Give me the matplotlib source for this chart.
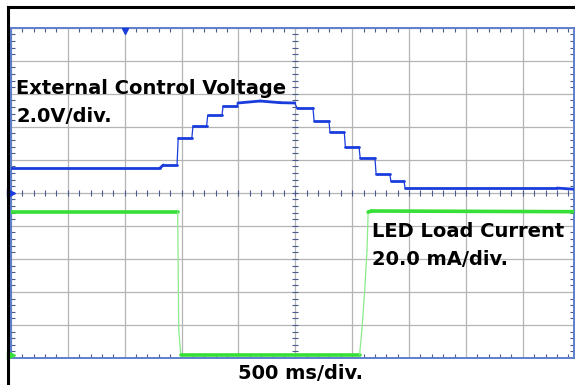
import numpy as np
import matplotlib.pyplot as plt
from matplotlib.collections import LineCollection
from matplotlib.lines import Line2D


# ==========================================
# DADOS (lidos da tela do osciloscópio)
# ==========================================
# CH1 - tensão de controle externa (V), 2.0 V/div, terra no centro
t_ctrl = [0, 1310, 1340, 1460, 1470, 1590, 1600, 1720, 1730, 1855, 1865,
          1985, 1995, 2190, 2365, 2495, 2515, 2655, 2665, 2795, 2805,
          2930, 2940, 3060, 3070, 3200, 3210, 3330, 3340, 3455, 3465,
          4800, 4950]
v_ctrl = [1.50, 1.50, 1.69, 1.69, 3.32, 3.32, 4.05, 4.05, 4.71, 4.71, 5.26,
          5.26, 5.44, 5.56, 5.46, 5.44, 5.14, 5.14, 4.35, 4.35, 3.68,
          3.68, 2.78, 2.78, 2.11, 2.11, 1.14, 1.14, 0.72, 0.72, 0.29,
          0.29, 0.22]

# CH2 - corrente no LED (mA), 20 mA/div, terra na base
t_led = [0, 1465, 1475, 1485, 1495, 3065, 3085, 3110, 3130, 3140, 3170, 4950]
i_led = [88.4, 88.4, 17.0, 8.0, 2.0, 2.0, 17.0, 41.0, 65.0, 88.4, 89.0, 88.6]

T_DIV = 500       # ms/div
V_DIV = 2.0       # V/div
I_DIV = 20.0      # mA/div
CH1_REF = 5.0     # div
CH2_REF = 0.0     # div
TRIG_MS = 1000

AZUL = "#1a3cdc"
VERDE = "#36e036"
VERDE_CLARO = "#8cec8c"


# ==========================================
# FIGURA
# ==========================================
W, H = 575, 385
fig = plt.figure(figsize=(W / 100, H / 100), dpi=100)
ax = fig.add_axes([11 / W, 1 - 358 / H, 563 / W, 330.3 / H])
ax.set_xlim(0, 4950)
ax.set_ylim(0, 10)

ax.set_xticks(np.arange(0, 4951, T_DIV))
ax.set_xticks(np.arange(0, 4951, 100), minor=True)
ax.set_yticks(np.arange(0, 10.01, 1))
ax.set_yticks(np.arange(0, 10.01, 0.2), minor=True)
ax.tick_params(which="both", direction="in", labelbottom=False, labelleft=False,
               top=True, right=True, color="#4a5a8a", width=0.8)
ax.tick_params(which="major", length=0)
ax.tick_params(which="minor", length=3)
ax.grid(True, which="major", color="#b4b4b4", lw=0.9)
ax.set_axisbelow(True)
for s in ax.spines.values():
    s.set_color("#5f7fcc")
    s.set_linewidth(1.4)

# marcas no centro da tela
xm = np.arange(0, 4951, 100)
ym = np.arange(0, 10.01, 0.2)
ax.plot(xm, np.full(len(xm), 5.0), ls="none", marker="|", ms=4, mew=0.8, color="#4a5a8a")
ax.plot(np.full(len(ym), 2500), ym, ls="none", marker="_", ms=4, mew=0.8, color="#4a5a8a")


def desenha(t, y, cor, cor_borda, lw):
    x = np.asarray(t, float)
    y = np.asarray(y, float)
    pts = np.column_stack([x, y])
    segs = np.stack([pts[:-1], pts[1:]], axis=1)
    incl = np.abs(np.diff(y)) / (np.diff(x) / T_DIV)
    ingreme = incl > 3
    cores = [cor_borda if s else cor for s in ingreme]
    larg = np.where(ingreme, 0.9, lw)
    ax.add_collection(LineCollection(segs, colors=cores, linewidths=larg,
                                     capstyle="round", zorder=3))


desenha(t_ctrl, np.array(v_ctrl) / V_DIV + CH1_REF, AZUL, AZUL, 2.0)
desenha(t_led, np.array(i_led) / I_DIV + CH2_REF, VERDE, VERDE_CLARO, 2.6)

# marcadores de trigger e de referência dos canais
ax.plot(TRIG_MS, 9.9, marker="v", ms=5, color=AZUL, clip_on=False, zorder=4)
ax.plot(0, CH1_REF, marker=">", ms=6, color=AZUL, clip_on=False, zorder=4)
ax.plot(0, CH2_REF + 0.08, marker=">", ms=6, color=VERDE, clip_on=False, zorder=4)

# moldura preta
fig.add_artist(Line2D([7.5 / W, 7.5 / W], [0, 1 - 7 / H], color="black", lw=2.2))
fig.add_artist(Line2D([7.5 / W, 1], [1 - 7 / H, 1 - 7 / H], color="black", lw=2.2))

# textos
kw = dict(fontsize=14, fontweight="bold", va="baseline", color="black")
fig.text(16 / W, 1 - 94.3 / H, "External Control Voltage", **kw)
fig.text(16 / W, 1 - 121.5 / H, "2.0V/div.", **kw)
fig.text(372 / W, 1 - 236.7 / H, "LED Load Current", **kw)
fig.text(372 / W, 1 - 265 / H, "20.0 mA/div.", **kw)
fig.text(238 / W, 1 - 379 / H, "500 ms/div.", **kw)

plt.savefig("out.png", dpi=100)
